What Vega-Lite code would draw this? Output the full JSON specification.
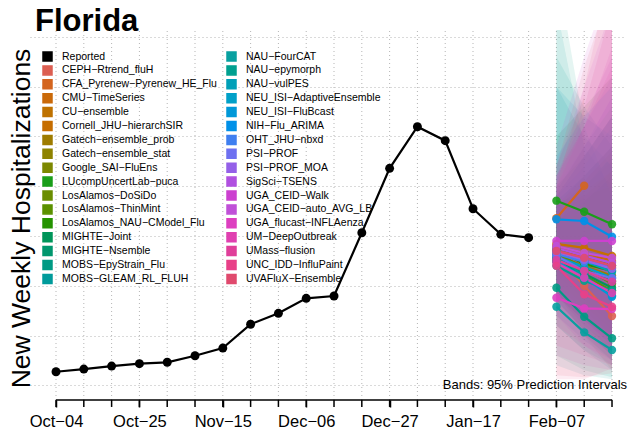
{
  "$schema": "https://vega.github.io/schema/vega-lite/v6.json",
  "width": 595,
  "height": 370,
  "autosize": {"type": "none"},
  "padding": {"left": 30, "top": 30, "right": 5, "bottom": 35},
  "background": "white",
  "title": {"text": "Florida", "anchor": "start", "frame": "group", "fontSize": 31, "fontWeight": "bold", "font": "Liberation Sans", "color": "black", "offset": 0, "dx": 5, "dy": 32, "baseline": "alphabetic"},
  "config": {"view": {"stroke": null}, "font": "Liberation Sans"},
  "datasets": {
    "weeks": [
      {"date": "2025-10-04"}, {"date": "2025-10-11"}, {"date": "2025-10-18"}, {"date": "2025-10-25"},
      {"date": "2025-11-01"}, {"date": "2025-11-08"}, {"date": "2025-11-15"}, {"date": "2025-11-22"},
      {"date": "2025-11-29"}, {"date": "2025-12-06"}, {"date": "2025-12-13"}, {"date": "2025-12-20"},
      {"date": "2025-12-27"}, {"date": "2026-01-03"}, {"date": "2026-01-10"}, {"date": "2026-01-17"},
      {"date": "2026-01-24"}, {"date": "2026-01-31"}, {"date": "2026-02-07"}, {"date": "2026-02-14"},
      {"date": "2026-02-21"}
    ],
    "reported": [
      {"model": "Reported", "date": "2025-10-04", "v": 136},
      {"model": "Reported", "date": "2025-10-11", "v": 163},
      {"model": "Reported", "date": "2025-10-18", "v": 193},
      {"model": "Reported", "date": "2025-10-25", "v": 217},
      {"model": "Reported", "date": "2025-11-01", "v": 231},
      {"model": "Reported", "date": "2025-11-08", "v": 297},
      {"model": "Reported", "date": "2025-11-15", "v": 374},
      {"model": "Reported", "date": "2025-11-22", "v": 613},
      {"model": "Reported", "date": "2025-11-29", "v": 723},
      {"model": "Reported", "date": "2025-12-06", "v": 874},
      {"model": "Reported", "date": "2025-12-13", "v": 897},
      {"model": "Reported", "date": "2025-12-20", "v": 1533},
      {"model": "Reported", "date": "2025-12-27", "v": 2180},
      {"model": "Reported", "date": "2026-01-03", "v": 2598},
      {"model": "Reported", "date": "2026-01-10", "v": 2458},
      {"model": "Reported", "date": "2026-01-17", "v": 1774},
      {"model": "Reported", "date": "2026-01-24", "v": 1517},
      {"model": "Reported", "date": "2026-01-31", "v": 1483}
    ],
    "fc": [
      {"model": "CEPH-Rtrend_fluH", "date": "2026-02-07", "v": 1309, "lo": 950, "hi": 1850},
      {"model": "CEPH-Rtrend_fluH", "date": "2026-02-14", "v": 1000, "lo": 500, "hi": 1900},
      {"model": "CEPH-Rtrend_fluH", "date": "2026-02-21", "v": 696, "lo": 150, "hi": 2000},
      {"model": "CFA_Pyrenew-Pyrenew_HE_Flu", "date": "2026-02-07", "v": 1678, "lo": 1300, "hi": 2200},
      {"model": "CFA_Pyrenew-Pyrenew_HE_Flu", "date": "2026-02-14", "v": 2005, "lo": 1350, "hi": 2900},
      {"model": "CMU-TimeSeries", "date": "2026-02-07", "v": 1400, "lo": 1100, "hi": 1800},
      {"model": "CMU-TimeSeries", "date": "2026-02-14", "v": 1330, "lo": 850, "hi": 2000},
      {"model": "CMU-TimeSeries", "date": "2026-02-21", "v": 1250, "lo": 600, "hi": 2250},
      {"model": "CU-ensemble", "date": "2026-02-07", "v": 1350, "lo": 1000, "hi": 1800},
      {"model": "CU-ensemble", "date": "2026-02-14", "v": 1250, "lo": 750, "hi": 2100},
      {"model": "CU-ensemble", "date": "2026-02-21", "v": 1180, "lo": 500, "hi": 2400},
      {"model": "Cornell_JHU-hierarchSIR", "date": "2026-02-07", "v": 1420, "lo": 1150, "hi": 1750},
      {"model": "Cornell_JHU-hierarchSIR", "date": "2026-02-14", "v": 1380, "lo": 950, "hi": 1950},
      {"model": "Cornell_JHU-hierarchSIR", "date": "2026-02-21", "v": 1300, "lo": 700, "hi": 2150},
      {"model": "Gatech-ensemble_prob", "date": "2026-02-07", "v": 1300, "lo": 950, "hi": 1700},
      {"model": "Gatech-ensemble_prob", "date": "2026-02-14", "v": 1200, "lo": 700, "hi": 1900},
      {"model": "Gatech-ensemble_prob", "date": "2026-02-21", "v": 1100, "lo": 450, "hi": 2150},
      {"model": "Gatech-ensemble_stat", "date": "2026-02-07", "v": 1250, "lo": 900, "hi": 1650},
      {"model": "Gatech-ensemble_stat", "date": "2026-02-14", "v": 1150, "lo": 650, "hi": 1850},
      {"model": "Gatech-ensemble_stat", "date": "2026-02-21", "v": 1050, "lo": 400, "hi": 2100},
      {"model": "Google_SAI-FluEns", "date": "2026-02-07", "v": 1380, "lo": 1050, "hi": 1800},
      {"model": "Google_SAI-FluEns", "date": "2026-02-14", "v": 1290, "lo": 800, "hi": 2050},
      {"model": "Google_SAI-FluEns", "date": "2026-02-21", "v": 1200, "lo": 550, "hi": 2350},
      {"model": "LUcompUncertLab-puca", "date": "2026-02-07", "v": 1855, "lo": 1300, "hi": 2500},
      {"model": "LUcompUncertLab-puca", "date": "2026-02-14", "v": 1744, "lo": 1000, "hi": 2800},
      {"model": "LUcompUncertLab-puca", "date": "2026-02-21", "v": 1618, "lo": 700, "hi": 3100},
      {"model": "LosAlamos-DoSiDo", "date": "2026-02-07", "v": 1330, "lo": 900, "hi": 1850},
      {"model": "LosAlamos-DoSiDo", "date": "2026-02-14", "v": 1180, "lo": 600, "hi": 2100},
      {"model": "LosAlamos-DoSiDo", "date": "2026-02-21", "v": 1020, "lo": 350, "hi": 2400},
      {"model": "LosAlamos-ThinMint", "date": "2026-02-07", "v": 1280, "lo": 850, "hi": 1800},
      {"model": "LosAlamos-ThinMint", "date": "2026-02-14", "v": 1100, "lo": 550, "hi": 2000},
      {"model": "LosAlamos-ThinMint", "date": "2026-02-21", "v": 950, "lo": 300, "hi": 2300},
      {"model": "LosAlamos_NAU-CModel_Flu", "date": "2026-02-07", "v": 1360, "lo": 900, "hi": 2000},
      {"model": "LosAlamos_NAU-CModel_Flu", "date": "2026-02-14", "v": 1220, "lo": 650, "hi": 2300},
      {"model": "LosAlamos_NAU-CModel_Flu", "date": "2026-02-21", "v": 1150, "lo": 450, "hi": 2700},
      {"model": "MIGHTE-Joint", "date": "2026-02-07", "v": 1240, "lo": 800, "hi": 1900},
      {"model": "MIGHTE-Joint", "date": "2026-02-14", "v": 1120, "lo": 500, "hi": 2300},
      {"model": "MIGHTE-Joint", "date": "2026-02-21", "v": 980, "lo": 250, "hi": 2700},
      {"model": "MIGHTE-Nsemble", "date": "2026-02-07", "v": 1270, "lo": 850, "hi": 1950},
      {"model": "MIGHTE-Nsemble", "date": "2026-02-14", "v": 1160, "lo": 550, "hi": 2400},
      {"model": "MIGHTE-Nsemble", "date": "2026-02-21", "v": 1040, "lo": 300, "hi": 2800},
      {"model": "MOBS-EpyStrain_Flu", "date": "2026-02-07", "v": 980, "lo": 300, "hi": 4200},
      {"model": "MOBS-EpyStrain_Flu", "date": "2026-02-14", "v": 689, "lo": 150, "hi": 2600},
      {"model": "MOBS-EpyStrain_Flu", "date": "2026-02-21", "v": 472, "lo": 80, "hi": 1900},
      {"model": "MOBS-GLEAM_RL_FLUH", "date": "2026-02-07", "v": 1300, "lo": 600, "hi": 3000},
      {"model": "MOBS-GLEAM_RL_FLUH", "date": "2026-02-14", "v": 1100, "lo": 350, "hi": 2500},
      {"model": "MOBS-GLEAM_RL_FLUH", "date": "2026-02-21", "v": 900, "lo": 150, "hi": 2200},
      {"model": "NAU-FourCAT", "date": "2026-02-07", "v": 789, "lo": 200, "hi": 3800},
      {"model": "NAU-FourCAT", "date": "2026-02-14", "v": 532, "lo": 100, "hi": 2400},
      {"model": "NAU-FourCAT", "date": "2026-02-21", "v": 354, "lo": 60, "hi": 2000},
      {"model": "NAU-epymorph", "date": "2026-02-07", "v": 1200, "lo": 600, "hi": 3300},
      {"model": "NAU-epymorph", "date": "2026-02-14", "v": 1050, "lo": 350, "hi": 2800},
      {"model": "NAU-epymorph", "date": "2026-02-21", "v": 950, "lo": 200, "hi": 2400},
      {"model": "NAU-vulPES", "date": "2026-02-07", "v": 1350, "lo": 700, "hi": 3000},
      {"model": "NAU-vulPES", "date": "2026-02-14", "v": 1250, "lo": 450, "hi": 2700},
      {"model": "NAU-vulPES", "date": "2026-02-21", "v": 1140, "lo": 250, "hi": 2500},
      {"model": "NEU_ISI-AdaptiveEnsemble", "date": "2026-02-07", "v": 1290, "lo": 900, "hi": 1900},
      {"model": "NEU_ISI-AdaptiveEnsemble", "date": "2026-02-14", "v": 1190, "lo": 650, "hi": 2200},
      {"model": "NEU_ISI-AdaptiveEnsemble", "date": "2026-02-21", "v": 1080, "lo": 400, "hi": 2600},
      {"model": "NEU_ISI-FluBcast", "date": "2026-02-07", "v": 1250, "lo": 850, "hi": 1850},
      {"model": "NEU_ISI-FluBcast", "date": "2026-02-14", "v": 1080, "lo": 550, "hi": 2100},
      {"model": "NEU_ISI-FluBcast", "date": "2026-02-21", "v": 890, "lo": 300, "hi": 2400},
      {"model": "NIH-Flu_ARIMA", "date": "2026-02-07", "v": 1668, "lo": 1200, "hi": 2300},
      {"model": "NIH-Flu_ARIMA", "date": "2026-02-14", "v": 1651, "lo": 1000, "hi": 2700},
      {"model": "NIH-Flu_ARIMA", "date": "2026-02-21", "v": 1493, "lo": 700, "hi": 3000},
      {"model": "OHT_JHU-nbxd", "date": "2026-02-07", "v": 1320, "lo": 950, "hi": 1900},
      {"model": "OHT_JHU-nbxd", "date": "2026-02-14", "v": 1240, "lo": 700, "hi": 2300},
      {"model": "OHT_JHU-nbxd", "date": "2026-02-21", "v": 1200, "lo": 500, "hi": 2700},
      {"model": "PSI-PROF", "date": "2026-02-07", "v": 1300, "lo": 850, "hi": 2000},
      {"model": "PSI-PROF", "date": "2026-02-14", "v": 1150, "lo": 550, "hi": 2400},
      {"model": "PSI-PROF", "date": "2026-02-21", "v": 1075, "lo": 350, "hi": 2900},
      {"model": "PSI-PROF_MOA", "date": "2026-02-07", "v": 1340, "lo": 900, "hi": 2100},
      {"model": "PSI-PROF_MOA", "date": "2026-02-14", "v": 1260, "lo": 600, "hi": 2600},
      {"model": "PSI-PROF_MOA", "date": "2026-02-21", "v": 1170, "lo": 400, "hi": 3100},
      {"model": "SigSci-TSENS", "date": "2026-02-07", "v": 1380, "lo": 950, "hi": 2100},
      {"model": "SigSci-TSENS", "date": "2026-02-14", "v": 1300, "lo": 650, "hi": 2700},
      {"model": "SigSci-TSENS", "date": "2026-02-21", "v": 1230, "lo": 400, "hi": 3300},
      {"model": "UGA_CEID-Walk", "date": "2026-02-07", "v": 1450, "lo": 700, "hi": 2400},
      {"model": "UGA_CEID-Walk", "date": "2026-02-14", "v": 1450, "lo": 400, "hi": 3300},
      {"model": "UGA_CEID-Walk", "date": "2026-02-21", "v": 1450, "lo": 200, "hi": 4100},
      {"model": "UGA_CEID-auto_AVG_LB", "date": "2026-02-07", "v": 1400, "lo": 800, "hi": 2200},
      {"model": "UGA_CEID-auto_AVG_LB", "date": "2026-02-14", "v": 1330, "lo": 500, "hi": 3000},
      {"model": "UGA_CEID-auto_AVG_LB", "date": "2026-02-21", "v": 1280, "lo": 300, "hi": 3800},
      {"model": "UGA_flucast-INFLAenza", "date": "2026-02-07", "v": 880, "lo": 300, "hi": 2000},
      {"model": "UGA_flucast-INFLAenza", "date": "2026-02-14", "v": 773, "lo": 200, "hi": 2600},
      {"model": "UGA_flucast-INFLAenza", "date": "2026-02-21", "v": 766, "lo": 150, "hi": 3400},
      {"model": "UM-DeepOutbreak", "date": "2026-02-07", "v": 1230, "lo": 600, "hi": 2100},
      {"model": "UM-DeepOutbreak", "date": "2026-02-14", "v": 1081, "lo": 400, "hi": 2600},
      {"model": "UM-DeepOutbreak", "date": "2026-02-21", "v": 927, "lo": 250, "hi": 3200},
      {"model": "UMass-flusion", "date": "2026-02-07", "v": 1260, "lo": 400, "hi": 2100},
      {"model": "UMass-flusion", "date": "2026-02-14", "v": 1150, "lo": 300, "hi": 2800},
      {"model": "UMass-flusion", "date": "2026-02-21", "v": 1040, "lo": 200, "hi": 3800},
      {"model": "UNC_IDD-InfluPaint", "date": "2026-02-07", "v": 1200, "lo": 60, "hi": 2000},
      {"model": "UNC_IDD-InfluPaint", "date": "2026-02-14", "v": 914, "lo": 60, "hi": 3000},
      {"model": "UNC_IDD-InfluPaint", "date": "2026-02-21", "v": 789, "lo": 170, "hi": 4200},
      {"model": "UVAFluX-Ensemble", "date": "2026-02-07", "v": 1350, "lo": 100, "hi": 2200},
      {"model": "UVAFluX-Ensemble", "date": "2026-02-14", "v": 1280, "lo": 80, "hi": 3200},
      {"model": "UVAFluX-Ensemble", "date": "2026-02-21", "v": 1200, "lo": 120, "hi": 4000}
    ],
    "note": [
      {"date": "2026-02-24T19:00:00Z", "v": -38, "label": "Bands: 95% Prediction Intervals"}
    ],
    "axisline": [
      {"date": "2025-10-04", "date2": "2026-02-21", "v": -148}
    ]
  },
  "layer": [
    {
      "data": {"name": "weeks"},
      "mark": {"type": "rule", "color": "#B5B5B5", "strokeWidth": 1, "strokeDash": [1, 3]},
      "encoding": {
        "x": {
          "field": "date", "type": "temporal",
          "scale": {"type": "utc", "domain": [1758970080000, 1771914528000]},
          "axis": {
            "values": [1759536000000, 1761350400000, 1763164800000, 1764979200000, 1766793600000, 1768608000000, 1770422400000],
            "labelExpr": "replace(utcFormat(datum.value, '%b-%d'), '-', '−')",
            "domain": false, "ticks": true, "tickColor": "black", "tickSize": 7, "tickWidth": 1.5,
            "labelFontSize": 16.5, "labelColor": "black", "labelFont": "Liberation Sans", "labelPadding": 6,
            "labelOverlap": false, "labelFlush": false, "labelBound": false,
            "grid": false,
            "title": null
          }
        },
        "y": {
          "datum": -148, "type": "quantitative",
          "scale": {"domain": [-148, 3570], "nice": false, "zero": false},
          "axis": {
            "values": [0, 500, 1000, 1500, 2000, 2500, 3000, 3500],
            "domain": false, "ticks": false, "labels": false,
            "grid": true, "gridColor": "#B5B5B5", "gridDash": [1, 3], "gridWidth": 1,
            "title": "New Weekly Hospitalizations", "titleFontSize": 26.5, "titleFontWeight": "normal",
            "titleFont": "Liberation Sans", "titleColor": "black", "titleX": -1, "titleY": 188,
            "titleAlign": "center", "titleBaseline": "alphabetic", "titleAngle": -90
          }
        },
        "y2": {"datum": 3570}
      }
    },
    {
      "data": {"name": "weeks"},
      "mark": {"type": "rule", "color": "black", "strokeWidth": 1.5},
      "encoding": {
        "x": {"field": "date", "type": "temporal"},
        "y": {"datum": -148, "type": "quantitative", "title": "New Weekly Hospitalizations"},
        "y2": {"datum": -218}
      }
    },
    {
      "data": {"name": "fc"},
      "mark": {"type": "area", "opacity": 0.1, "clip": true, "interpolate": "linear"},
      "encoding": {
        "x": {"field": "date", "type": "temporal"},
        "y": {"field": "lo", "type": "quantitative", "title": "New Weekly Hospitalizations"},
        "y2": {"field": "hi"},
        "color": {
          "field": "model", "type": "nominal",
          "scale": {
            "domain": ["Reported", "CEPH-Rtrend_fluH", "CFA_Pyrenew-Pyrenew_HE_Flu", "CMU-TimeSeries", "CU-ensemble", "Cornell_JHU-hierarchSIR", "Gatech-ensemble_prob", "Gatech-ensemble_stat", "Google_SAI-FluEns", "LUcompUncertLab-puca", "LosAlamos-DoSiDo", "LosAlamos-ThinMint", "LosAlamos_NAU-CModel_Flu", "MIGHTE-Joint", "MIGHTE-Nsemble", "MOBS-EpyStrain_Flu", "MOBS-GLEAM_RL_FLUH", "NAU-FourCAT", "NAU-epymorph", "NAU-vulPES", "NEU_ISI-AdaptiveEnsemble", "NEU_ISI-FluBcast", "NIH-Flu_ARIMA", "OHT_JHU-nbxd", "PSI-PROF", "PSI-PROF_MOA", "SigSci-TSENS", "UGA_CEID-Walk", "UGA_CEID-auto_AVG_LB", "UGA_flucast-INFLAenza", "UM-DeepOutbreak", "UMass-flusion", "UNC_IDD-InfluPaint", "UVAFluX-Ensemble"],
            "range": ["#000000", "#DC5F52", "#D4651F", "#CA6A0A", "#BF7200", "#C66E00", "#9E7C00", "#8E8300", "#7C8800", "#1A9E1A", "#6A8D00", "#5B9100", "#259300", "#00955A", "#00976E", "#009A84", "#009B9B", "#08A0A0", "#00A090", "#00A0B8", "#00A0C8", "#0098D8", "#0090E8", "#3F7FF0", "#6E70F0", "#9460E8", "#B050E0", "#CC40D0", "#C050D8", "#DD3FC0", "#E040B0", "#E03F9A", "#E84088", "#E04A6E"]
          },
          "legend": {
            "orient": "none", "legendX": 12, "legendY": 21, "columns": 2, "columnPadding": 7, "rowPadding": -1.1,
            "symbolLimit": 0,
            "symbolType": "square", "symbolSize": 81, "symbolStrokeColor": "black", "symbolStrokeWidth": 1.5, "symbolOpacity": 1,
            "labelFontSize": 10.5, "labelFont": "Liberation Sans", "labelColor": "black", "labelOffset": 9, "labelLimit": 300,
            "title": null, "padding": 0,
            "labelExpr": "replace(datum.label, '-', '−')",
            "encode": {"symbols": {"update": {"fill": {"scale": "color", "field": "value"}, "stroke": {"value": "black"}, "strokeWidth": {"value": 1.5}, "opacity": {"value": 1}, "fillOpacity": {"value": 1}}}}
          }
        }
      }
    },
    {
      "data": {"name": "fc"},
      "mark": {"type": "line", "strokeWidth": 2.2},
      "encoding": {
        "x": {"field": "date", "type": "temporal"},
        "y": {"field": "v", "type": "quantitative", "title": "New Weekly Hospitalizations"},
        "color": {"field": "model", "type": "nominal"}
      }
    },
    {
      "data": {"name": "fc"},
      "mark": {"type": "point", "filled": true, "size": 70, "opacity": 0.9},
      "encoding": {
        "x": {"field": "date", "type": "temporal"},
        "y": {"field": "v", "type": "quantitative", "title": "New Weekly Hospitalizations"},
        "color": {"field": "model", "type": "nominal"}
      }
    },
    {
      "data": {"name": "reported"},
      "mark": {"type": "line", "strokeWidth": 2.2},
      "encoding": {
        "x": {"field": "date", "type": "temporal"},
        "y": {"field": "v", "type": "quantitative", "title": "New Weekly Hospitalizations"},
        "color": {"field": "model", "type": "nominal"}
      }
    },
    {
      "data": {"name": "reported"},
      "mark": {"type": "point", "filled": true, "size": 80, "opacity": 1},
      "encoding": {
        "x": {"field": "date", "type": "temporal"},
        "y": {"field": "v", "type": "quantitative", "title": "New Weekly Hospitalizations"},
        "color": {"field": "model", "type": "nominal"}
      }
    },
    {
      "data": {"name": "note"},
      "mark": {"type": "text", "align": "right", "baseline": "alphabetic", "fontSize": 13, "font": "Liberation Sans", "color": "black"},
      "encoding": {
        "x": {"field": "date", "type": "temporal"},
        "y": {"field": "v", "type": "quantitative", "title": "New Weekly Hospitalizations"},
        "text": {"field": "label"}
      }
    },
    {
      "data": {"name": "axisline"},
      "mark": {"type": "rule", "color": "black", "strokeWidth": 1.5},
      "encoding": {
        "x": {"field": "date", "type": "temporal"},
        "x2": {"field": "date2"},
        "y": {"field": "v", "type": "quantitative", "title": "New Weekly Hospitalizations"}
      }
    }
  ]
}
